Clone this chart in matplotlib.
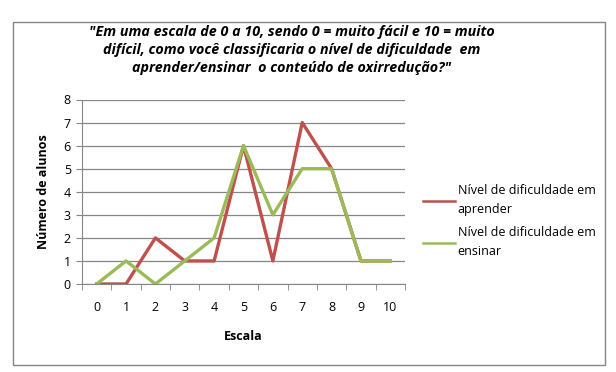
import matplotlib
matplotlib.use('Agg')
import matplotlib.pyplot as plt
from matplotlib.patches import Rectangle

plt.rcParams['font.family'] = ['Open Sans', 'DejaVu Sans']

escala = list(range(11))
aprender = [0, 0, 2, 1, 1, 6, 1, 7, 5, 1, 1]
ensinar = [0, 1, 0, 1, 2, 6, 3, 5, 5, 1, 1]
titulo = ('"Em uma escala de 0 a 10, sendo 0 = muito fácil e 10 = muito\n'
          'difícil, como você classificaria o nível de dificuldade  em\n'
          'aprender/ensinar  o conteúdo de oxirredução?"')

fig = plt.figure(figsize=(6.16, 3.72), dpi=100)
fig.patch.set_facecolor('white')
fig.patches.append(Rectangle((13/616, 1 - 365/372), 592/616, 343/372,
                             transform=fig.transFigure, fill=False,
                             edgecolor='#868686', linewidth=1.0))

ax = fig.add_axes([82/616, 1 - 284/372, 323/616, 184.5/372])
ax.plot(escala, aprender, color='#C0504D', linewidth=2.4, label='Nível de dificuldade em\naprender')
ax.plot(escala, ensinar, color='#9BBB59', linewidth=2.4, label='Nível de dificuldade em\nensinar')

ax.set_xlim(-0.5, 10.5)
ax.set_ylim(0, 8)
ax.set_yticks(range(9))
ax.set_xticks(escala)
ax.set_xticks([i - 0.5 for i in range(12)], minor=True)
ax.tick_params(axis='x', which='major', length=0, pad=12, labelsize=9)
ax.tick_params(axis='x', which='minor', length=4, color='#868686', direction='out')
ax.tick_params(axis='y', length=4, color='#868686', direction='out', labelsize=9, pad=4)
ax.grid(axis='y', color='#868686', linewidth=0.9)
ax.set_axisbelow(True)
for s in ['top', 'right']:
    ax.spines[s].set_visible(False)
for s in ['left', 'bottom']:
    ax.spines[s].set_color('#868686')
ax.set_xlabel('Escala', fontweight='bold', fontsize=9, labelpad=12)
ax.set_ylabel('Número de alunos', fontweight='bold', fontsize=9, labelpad=10)

leg = ax.legend(loc='center left', bbox_to_anchor=(1.02, 0.34), frameon=False,
                fontsize=9, handlelength=2.6, handletextpad=0.2, labelspacing=0.8)
for t in leg.get_texts():
    t.set_linespacing(1.6)
for h in leg.get_lines():
    h.set_linewidth(1.8)

fig.text(292/616, 1 - 50/372, titulo, ha='center', va='center', fontsize=10.3,
         fontweight='bold', fontstyle='italic', linespacing=1.4)

fig.savefig('out.png', dpi=100)
